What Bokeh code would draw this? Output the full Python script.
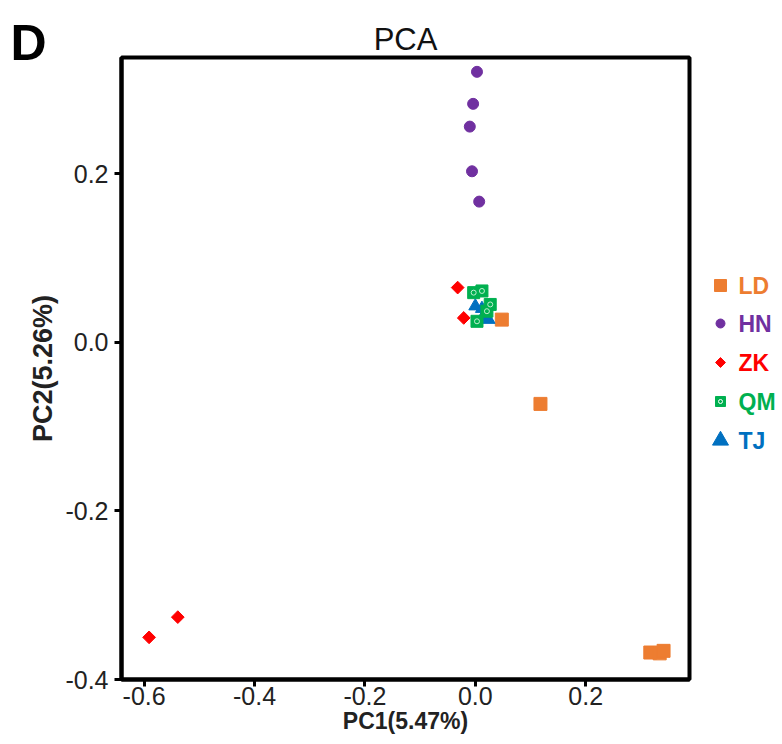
from bokeh.plotting import figure
from bokeh.models import Range1d, FixedTicker, Title, ColumnDataSource
from bokeh.layouts import row
from bokeh.core.properties import value
from bokeh.embed import file_html
from bokeh.resources import INLINE

# ---- data ----
groups = ["LD", "HN", "ZK", "QM", "TJ"]
colors = ["#ED7D31", "#7030A0", "#FF0000", "#00B050", "#0070C0"]

ld_x = [0.048, 0.118, 0.317, 0.334, 0.341]
ld_y = [0.027, -0.073, -0.368, -0.369, -0.366]

hn_x = [0.003, -0.004, -0.010, -0.006, 0.007]
hn_y = [0.321, 0.283, 0.256, 0.203, 0.167]

zk_x = [-0.539, -0.591, -0.032, -0.021]
zk_y = [-0.326, -0.350, 0.065, 0.029]

tj_x = [0.000, 0.024, 0.018, 0.012, 0.020]
tj_y = [0.043, 0.027, 0.035, 0.040, 0.030]

qm_x = [-0.003, 0.012, 0.027, 0.021, 0.003]
qm_y = [0.059, 0.061, 0.045, 0.037, 0.025]

x_ticks = [-0.6, -0.4, -0.2, 0.0, 0.2]
x_tick_labels = ["-0.6", "-0.4", "-0.2", "0.0", "0.2"]
y_ticks = [-0.4, -0.2, 0.0, 0.2]
y_tick_labels = ["-0.4", "-0.2", "0.0", "0.2"]

title_text = "PCA"
panel_letter = "D"
x_label = "PC1(5.47%)"
y_label = "PC2(5.26%)"

FONT = "Liberation Sans"
TXT = "#222222"
TOP, BOTTOM = 57, 65

p = figure(width=693, height=744,
           x_range=Range1d(-0.641, 0.388), y_range=Range1d(-0.400, 0.338),
           output_backend="svg", toolbar_location=None,
           min_border_left=121, min_border_right=4,
           min_border_top=TOP, min_border_bottom=BOTTOM,
           title=title_text)
p.background_fill_color = "white"
p.border_fill_color = "white"
p.grid.visible = False
p.outline_line_color = "black"
p.outline_line_width = 4

p.title.align = "center"
p.title.text_font = FONT
p.title.text_font_style = "normal"
p.title.text_font_size = "31px"
p.title.text_color = "#111111"
p.title.standoff = -62

p.add_layout(Title(text=panel_letter, align="left", offset=-111, standoff=-26,
                   text_font=FONT, text_font_style="bold", text_font_size="50px",
                   text_color="black"), "above")

for ax in (p.xaxis[0], p.yaxis[0]):
    ax.axis_line_color = "black"
    ax.axis_line_width = 4
    ax.major_tick_line_color = "black"
    ax.major_tick_line_width = 3
    ax.major_tick_out = 7
    ax.major_tick_in = 0
    ax.minor_tick_line_color = None
    ax.major_label_text_font = FONT
    ax.major_label_text_font_size = "25px"
    ax.major_label_text_color = TXT
    ax.axis_label_text_font = FONT
    ax.axis_label_text_font_style = "bold"
    ax.axis_label_text_color = TXT

p.xaxis[0].ticker = FixedTicker(ticks=x_ticks)
p.xaxis[0].major_label_overrides = dict(zip(x_ticks, x_tick_labels))
p.xaxis[0].axis_label = x_label
p.xaxis[0].axis_label_text_font_size = "23px"
p.xaxis[0].major_label_standoff = 0
p.xaxis[0].axis_label_standoff = 0

p.yaxis[0].ticker = FixedTicker(ticks=y_ticks)
p.yaxis[0].major_label_overrides = dict(zip(y_ticks, y_tick_labels))
p.yaxis[0].axis_label = y_label
p.yaxis[0].axis_label_text_font_size = "27px"
p.yaxis[0].major_label_standoff = 6
p.yaxis[0].axis_label_standoff = 4

# points
p.scatter(ld_x, ld_y, marker="square", size=13, fill_color=colors[0], line_color=colors[0])
p.scatter(hn_x, hn_y, marker="circle", size=11, fill_color=colors[1], line_color=colors[1])
p.scatter(zk_x, zk_y, marker="square", angle=0.785, size=9, fill_color=colors[2], line_color=colors[2])
p.scatter(tj_x, tj_y, marker="triangle", size=13, fill_color=colors[4], line_color=colors[4])
p.scatter(qm_x, qm_y, marker="square", size=12, fill_color=colors[3], line_color=colors[3])
p.scatter(qm_x, qm_y, marker="circle", size=5, fill_color=None, line_color="#BFEFD0", line_width=1)

# ---- legend panel (pixel coordinates of the page, frame aligned with main plot) ----
lf = figure(width=89, height=744, x_range=Range1d(0, 89), y_range=Range1d(744 - BOTTOM, TOP),
            output_backend="svg", toolbar_location=None,
            min_border_left=0, min_border_right=0,
            min_border_top=TOP, min_border_bottom=BOTTOM)
lf.axis.visible = False
lf.grid.visible = False
lf.outline_line_color = None
lf.background_fill_color = "white"
lf.border_fill_color = "white"

row_y = [285, 323, 362, 401, 440]
mk_x = [27] * len(groups)
markers = ["square", "circle", "square", "square", "triangle"]
angles = [0, 0, 0.785, 0, 0]
sizes = [12, 9, 7, 10, 16]
src = ColumnDataSource(dict(x=mk_x, y=row_y, m=markers, s=sizes, a=angles, c=colors))
lf.scatter("x", "y", marker="m", size="s", angle="a", fill_color="c", line_color="c", source=src)
lf.scatter([27], [row_y[3]], marker="circle", size=4, fill_color=None, line_color="white", line_width=1)
tsrc = ColumnDataSource(dict(x=[45] * len(groups), y=row_y, t=groups, c=colors))
lf.text("x", "y", text="t", text_color="c", source=tsrc, text_font=value(FONT),
        text_font_style="bold", text_font_size="23px", text_baseline="middle")

layout = row(p, lf)
open("out.html", "w").write(file_html(layout, INLINE))
